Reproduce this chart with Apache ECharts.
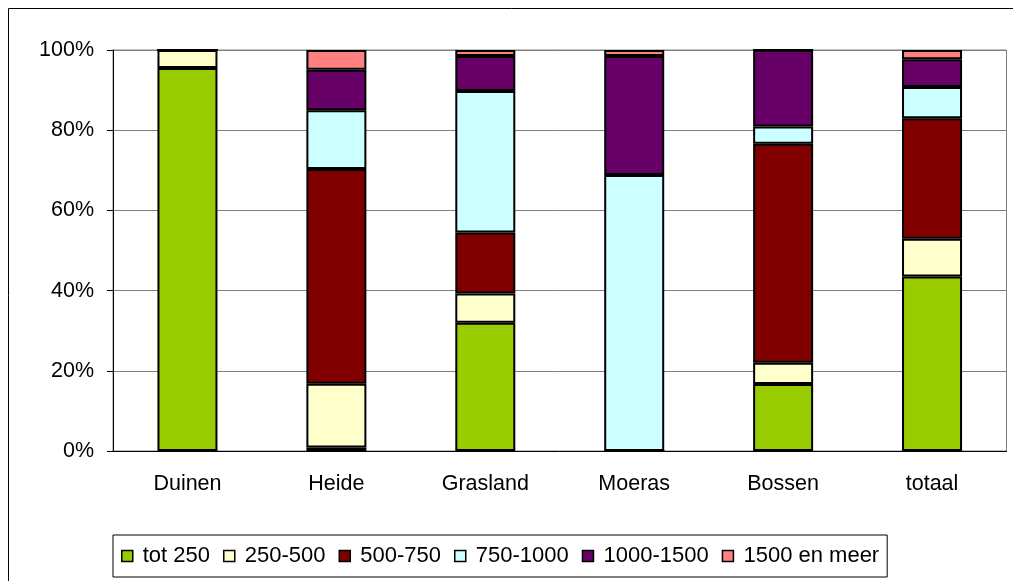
<!DOCTYPE html>
<html>
<head>
<meta charset="utf-8">
<script src="https://cdn.jsdelivr.net/npm/echarts@6/dist/echarts.min.js"></script>
<style>
  html, body { margin: 0; padding: 0; background: #fff; }
  #chart { width: 1013px; height: 581px; }
</style>
</head>
<body>
<div id="chart"></div>
<script>
var categories = ['Duinen', 'Heide', 'Grasland', 'Moeras', 'Bossen', 'totaal']
var seriesNames = ['tot 250', '250-500', '500-750', '750-1000', '1000-1500', '1500 en meer']
// aandeel per klasse (%)
var tot250 = [95.5, 0.9, 32.0, 0, 16.7, 43.5]
var k250_500 = [4.5, 15.9, 7.3, 0, 5.3, 9.4]
var k500_750 = [0, 53.5, 15.2, 0, 54.6, 30.1]
var k750_1000 = [0, 14.7, 35.3, 68.8, 4.3, 7.8]
var k1000_1500 = [0, 10.1, 8.7, 29.7, 19.1, 6.9]
var k1500meer = [0, 4.9, 1.5, 1.5, 0, 2.3]
var yTicks = [0, 20, 40, 60, 80, 100]

var colors = ['#99cc00', '#ffffcc', '#800000', '#ccffff', '#660066', '#ff8080']
var values = [tot250, k250_500, k500_750, k750_1000, k1000_1500, k1500meer]
var font = "'Liberation Sans', Arial, sans-serif"

var myChart = echarts.init(document.getElementById('chart'))

var series = seriesNames.map(function (name, i) {
  return {
    name: name,
    type: 'bar',
    stack: 'total',
    barWidth: 60,
    data: values[i],
    itemStyle: {
      color: colors[i],
      borderColor: '#000',
      borderWidth: 2
    }
  }
})

var option = {
  animation: false,
  textStyle: { fontFamily: font },
  graphic: [{
    type: 'rect',
    shape: { x: 8.5, y: 8.5, width: 1100, height: 700 },
    style: { fill: 'none', stroke: '#000', lineWidth: 1 },
    z: -10
  }],
  legend: {
    data: seriesNames,
    left: 113,
    top: 535,
    orient: 'horizontal',
    icon: 'rect',
    itemWidth: 11,
    itemHeight: 11,
    itemGap: 13,
    padding: [10, 8, 10, 8],
    borderColor: '#000',
    borderWidth: 1,
    itemStyle: { borderColor: '#000', borderWidth: 1.5 },
    textStyle: {
      fontFamily: font,
      fontSize: 22,
      color: '#000',
      padding: [0, 0, 0, 5]
    }
  },
  grid: {
    left: 113,
    right: 6.5,
    top: 50,
    bottom: 130,
    show: true,
    borderColor: '#808080',
    borderWidth: 1,
    containLabel: false
  },
  xAxis: {
    type: 'category',
    data: categories,
    axisLine: { lineStyle: { color: '#000', width: 1 } },
    axisTick: { length: 5, lineStyle: { color: '#000' } },
    axisLabel: {
      margin: 22,
      fontSize: 21.5,
      color: '#000',
      fontFamily: font
    }
  },
  yAxis: {
    type: 'value',
    min: 0,
    max: 100,
    interval: 20,
    axisLine: { show: true, lineStyle: { color: '#000', width: 1 } },
    axisTick: { show: true, length: 6, lineStyle: { color: '#000' } },
    splitLine: { lineStyle: { color: '#808080', width: 1 } },
    axisLabel: {
      margin: 19,
      fontSize: 21.5,
      color: '#000',
      fontFamily: font,
      formatter: function (v) {
        return yTicks.indexOf(v) > -1 ? v + '%' : ''
      }
    }
  },
  series: series
}

myChart.setOption(option)
</script>
</body>
</html>
